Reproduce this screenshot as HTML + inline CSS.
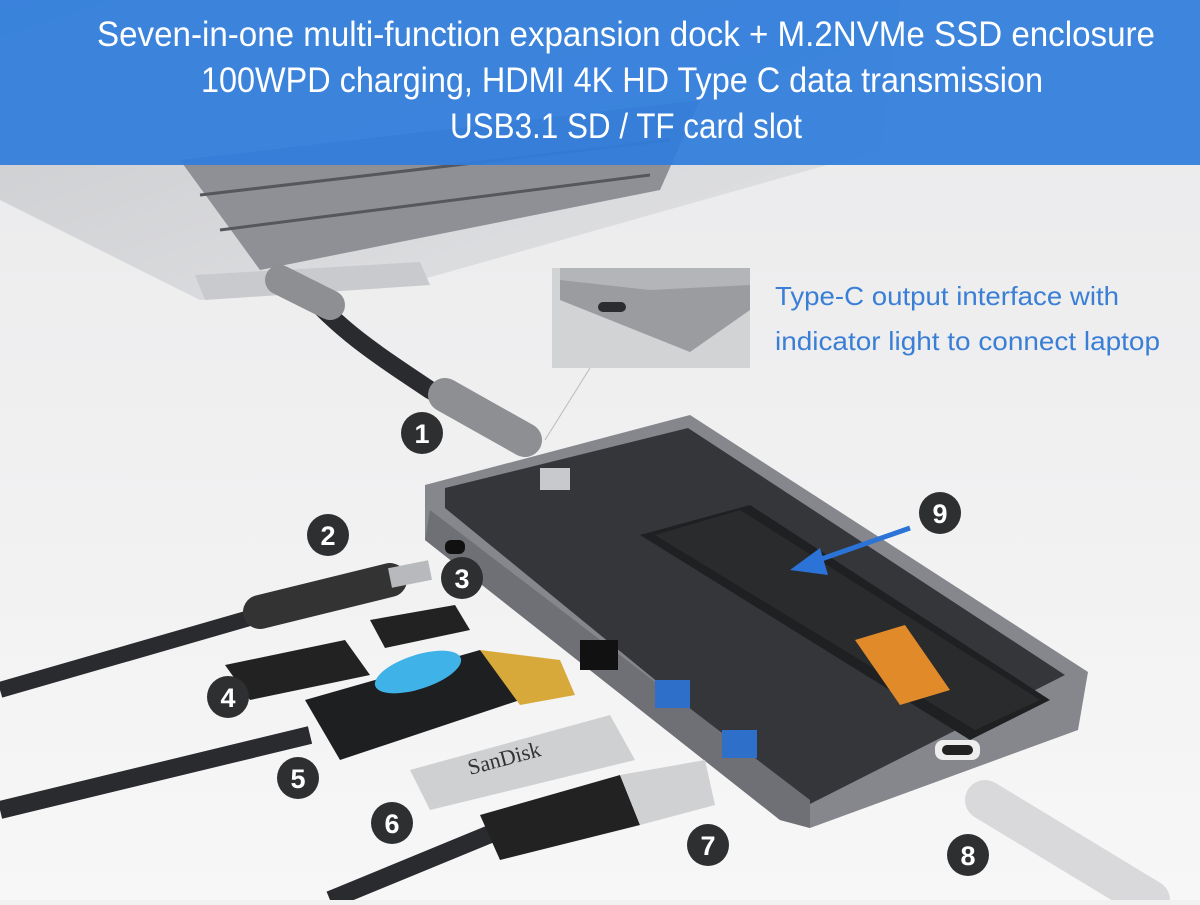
<!DOCTYPE html>
<html><head><meta charset="utf-8"><style>
html,body{margin:0;padding:0;}
body{width:1200px;height:900px;overflow:hidden;background:#f1f1f1;font-family:"Liberation Sans",sans-serif;}
</style></head><body>
<svg width="1200" height="900" viewBox="0 0 1200 900" xmlns="http://www.w3.org/2000/svg">
<defs>
<linearGradient id="bg" x1="0" y1="0" x2="0" y2="1"><stop offset="0" stop-color="#e9e9eb"/><stop offset="1" stop-color="#f7f7f7"/></linearGradient>
<linearGradient id="lap" x1="0" y1="0" x2="1" y2="1"><stop offset="0" stop-color="#c9cacd"/><stop offset="1" stop-color="#e3e4e6"/></linearGradient>
</defs>
<rect width="1200" height="900" fill="url(#bg)"/>
<!-- laptop -->
<polygon points="0,0 900,0 880,150 420,280 200,300 0,200" fill="url(#lap)"/>
<polygon points="180,160 700,100 660,190 260,270" fill="#8e9095"/>
<g stroke="#55575c" stroke-width="3">
<line x1="200" y1="195" x2="670" y2="140"/><line x1="220" y1="230" x2="650" y2="175"/>
</g>
<polygon points="195,275 420,262 430,285 205,300" fill="#c9cacd"/>
<!-- cable 1 -->
<path d="M300,285 C340,330 370,350 430,390 L500,430" stroke="#2a2b2e" stroke-width="18" fill="none"/>
<path d="M280,280 L330,305" stroke="#8d8f93" stroke-width="30" stroke-linecap="round"/>
<path d="M445,395 L525,440" stroke="#8d8f93" stroke-width="34" stroke-linecap="round"/>
<!-- banner -->
<rect x="0" y="0" width="1200" height="165" fill="#2f7ddb" opacity="0.93"/>
<g fill="#fff" font-size="35" text-anchor="middle" font-family="Liberation Sans,sans-serif">
<text x="626" y="46" textLength="1058" lengthAdjust="spacingAndGlyphs">Seven-in-one multi-function expansion dock + M.2NVMe SSD enclosure</text>
<text x="622" y="92" textLength="842" lengthAdjust="spacingAndGlyphs">100WPD charging, HDMI 4K HD Type C data transmission</text>
<text x="626" y="138" textLength="352" lengthAdjust="spacingAndGlyphs">USB3.1 SD / TF card slot</text>
</g>
<!-- inset -->
<rect x="552" y="268" width="198" height="100" fill="#d2d3d5"/>
<polygon points="560,270 750,270 750,310 690,352 560,300" fill="#9a9ca0"/>
<polygon points="560,268 750,268 750,285 650,290 560,280" fill="#b3b5b8"/>
<rect x="598" y="302" width="28" height="10" rx="5" fill="#2b2c2f"/>
<line x1="590" y1="368" x2="545" y2="440" stroke="#bbb" stroke-width="1"/>
<g fill="#3a7fd6" font-size="26">
<text x="775" y="305" textLength="344" lengthAdjust="spacingAndGlyphs">Type-C output interface with</text>
<text x="775" y="350" textLength="385" lengthAdjust="spacingAndGlyphs">indicator light to connect laptop</text>
</g>
<!-- dock -->
<polygon points="425,485 690,415 1088,672 1078,730 810,828 780,820 425,540" fill="#85878c"/>
<polygon points="445,488 688,428 1065,675 808,805 445,508" fill="#35363a"/>
<polygon points="425,540 780,820 810,828 810,800 430,510" fill="#6e7075"/>
<polygon points="640,535 750,505 1050,700 970,740" fill="#1f2022"/>
<polygon points="655,535 740,510 1040,700 975,730" fill="#2a2b2d"/>
<polygon points="855,640 905,625 950,690 900,705" fill="#e08a2a"/>
<rect x="540" y="468" width="30" height="22" fill="#c8c9cc"/>
<!-- ports -->
<rect x="445" y="540" width="20" height="14" rx="6" fill="#111"/>
<rect x="580" y="640" width="38" height="30" fill="#111"/>
<rect x="655" y="680" width="35" height="28" fill="#2d6fc9"/>
<rect x="722" y="730" width="35" height="28" fill="#2d6fc9"/>
<rect x="935" y="740" width="45" height="20" rx="8" fill="#eee"/>
<rect x="942" y="745" width="31" height="10" rx="5" fill="#222"/>
<!-- peripherals -->
<path d="M0,690 L260,615" stroke="#2a2b2e" stroke-width="16"/>
<path d="M260,612 L390,580" stroke="#333" stroke-width="34" stroke-linecap="round"/>
<path d="M390,578 L430,570" stroke="#b7b9bc" stroke-width="20"/>
<polygon points="225,665 345,640 370,675 250,700" fill="#222"/>
<polygon points="370,620 455,605 470,630 385,648" fill="#222"/>
<path d="M0,810 L310,735" stroke="#2a2b2e" stroke-width="18"/>
<polygon points="305,700 480,650 520,700 340,760" fill="#1e1f21"/>
<ellipse cx="418" cy="672" rx="45" ry="17" fill="#3fb2e8" transform="rotate(-18 418 672)"/>
<polygon points="480,650 560,660 575,695 520,705" fill="#d7a93a"/>
<polygon points="410,770 610,715 635,760 430,810" fill="#cfd0d2"/>
<text x="470" y="775" font-size="22" font-family="Liberation Serif,serif" fill="#333" transform="rotate(-15 470 775)">SanDisk</text>
<path d="M330,900 L500,830" stroke="#2a2b2e" stroke-width="18"/>
<polygon points="480,815 620,775 640,825 500,860" fill="#222"/>
<polygon points="620,775 705,760 715,805 640,825" fill="#d0d1d3"/>
<path d="M985,800 L1150,900" stroke="#d9d9db" stroke-width="40" stroke-linecap="round"/>
<!-- arrow 9 -->
<line x1="910" y1="528" x2="810" y2="563" stroke="#2b73d6" stroke-width="5"/>
<polygon points="790,570 820,548 828,575" fill="#2b73d6"/>
<!-- numbers -->
<g fill="#2e2f31">
<circle cx="422" cy="433" r="21"/><circle cx="328" cy="535" r="21"/><circle cx="462" cy="578" r="21"/>
<circle cx="228" cy="697" r="21"/><circle cx="298" cy="778" r="21"/><circle cx="392" cy="823" r="21"/>
<circle cx="708" cy="845" r="21"/><circle cx="968" cy="855" r="21"/><circle cx="940" cy="513" r="21"/>
</g>
<g fill="#fff" font-size="27" font-weight="bold" text-anchor="middle">
<text x="422" y="443">1</text><text x="328" y="545">2</text><text x="462" y="588">3</text>
<text x="228" y="707">4</text><text x="298" y="788">5</text><text x="392" y="833">6</text>
<text x="708" y="855">7</text><text x="968" y="865">8</text><text x="940" y="523">9</text>
</g>
</svg>
</body></html>
